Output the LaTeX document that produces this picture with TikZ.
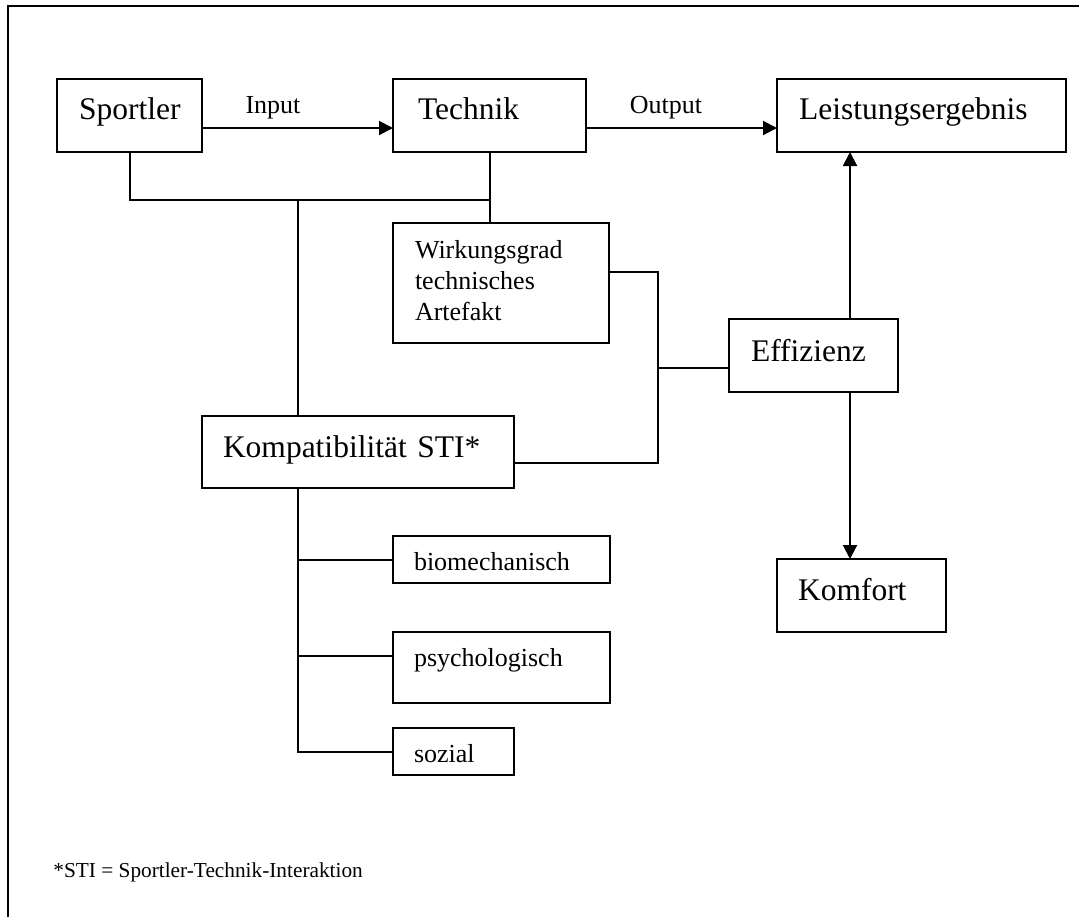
\documentclass[tikz,border=0pt]{standalone}
\usepackage{fontspec}
\setmainfont{Liberation Serif}
\usetikzlibrary{arrows.meta,calc}
\hyphenpenalty=10000
\exhyphenpenalty=10000

\tikzset{
  wire/.style={line width=1pt},
  arr/.style={wire, -{Triangle[length=7pt,width=7pt]}},
  box/.style={draw, line width=1pt, anchor=north west, inner ysep=0pt,
    outer sep=0pt, align=left},
  big/.style={font=\fontsize{15.75}{18}\selectfont},
  small/.style={font=\fontsize{13}{15.5}\selectfont},
  note/.style={font=\fontsize{10.65}{12}\selectfont, inner sep=0pt},
  % box geometry: left padding, text width, baseline from top, rest below
  geom/.style n args={4}{inner xsep=#1, text width=#2, text height=#3, text depth=#4},
}

\begin{document}
\begin{tikzpicture}[x=0.5pt,y=-0.5pt]
  \useasboundingbox (0,0) rectangle (1079,917);

  % outer frame (left and top edges)
  \draw[wire] (8,917) -- (8,6) -- (1079,6);

  % main chain
  \node[box,big,geom={11pt}{50.5pt}{20pt}{16.5pt}] (sport) at (57,79) {Sportler};
  \node[box,big,geom={12.5pt}{71.5pt}{20pt}{16.5pt}] (tech) at (393,79) {Technik};
  \node[box,big,geom={11pt}{122.5pt}{20pt}{16.5pt}] (leist) at (777,79) {Leistungsergebnis};

  \node[small,anchor=base] (inlbl) at (273,113) {Input};
  \node[small,anchor=base] (outlbl) at (666,113) {Output};

  % efficiency factors
  \node[box,small,geom={11pt}{86pt}{17.5pt}{42.5pt}] (wirk) at (393,223)
    {Wirkungsgrad\\technisches\\Artefakt};
  \node[box,big,geom={11pt}{62.5pt}{21pt}{15.5pt}] (eff) at (729,319) {Effizienz};
  \node[box,big,geom={10.5pt}{63.5pt}{20.5pt}{16pt}] (komf) at (777,559) {Komfort};
  \node[box,big,geom={10.5pt}{135pt}{20.5pt}{15.5pt}] (kompat) at (202,416) {Kompatibilität STI*};

  % aspects of compatibility
  \node[box,small,geom={10.5pt}{87.5pt}{17pt}{6.5pt}] (bio) at (393,536) {biomechanisch};
  \node[box,small,geom={10.5pt}{87.5pt}{17pt}{18.5pt}] (psy) at (393,632) {psychologisch};
  \node[box,small,geom={10.5pt}{39.5pt}{17pt}{6.5pt}] (soz) at (393,728) {sozial};

  \node[note,anchor=base west] (fn) at (53,877) {*STI = Sportler-Technik-Interaktion};

  % junction points
  \coordinate (bus) at (298,200);
  \coordinate (mid) at (658,368);
  \coordinate (kb) at (bus |- kompat.south);
  \coordinate (pyt) at ([yshift=5.75pt]psy.west);

  % input / output arrows
  \draw[arr] ([yshift=-6.25pt]sport.east) -- ([yshift=-6.25pt]tech.west);
  \draw[arr] ([yshift=-6.25pt]tech.east) -- ([yshift=-6.25pt]leist.west);

  % Sportler and Technik joined, feeding compatibility
  \draw[wire] (sport.south) |- (bus) -| (tech.south);
  \draw[wire] (tech.south) -- (tech.south |- wirk.north);
  \draw[wire] (bus) -- (bus |- kompat.north);

  % compatibility branches
  \draw[wire] (kb) |- (soz.west);
  \draw[wire] (kb |- bio.west) -- (bio.west);
  \draw[wire] (kb |- pyt) -- (pyt);

  % both factors merge into efficiency
  \draw[wire] ([yshift=5.5pt]wirk.east) -| (mid) |- ([yshift=-5.5pt]kompat.east);
  \draw[wire] (mid) -- ([yshift=-6.25pt]eff.west);

  % efficiency drives result and comfort
  \draw[arr] ([xshift=18.25pt]eff.north) -- ([xshift=18.25pt]eff.north |- leist.south);
  \draw[arr] ([xshift=18.25pt]eff.south) -- ([xshift=18.25pt]eff.south |- komf.north);
\end{tikzpicture}
\end{document}
